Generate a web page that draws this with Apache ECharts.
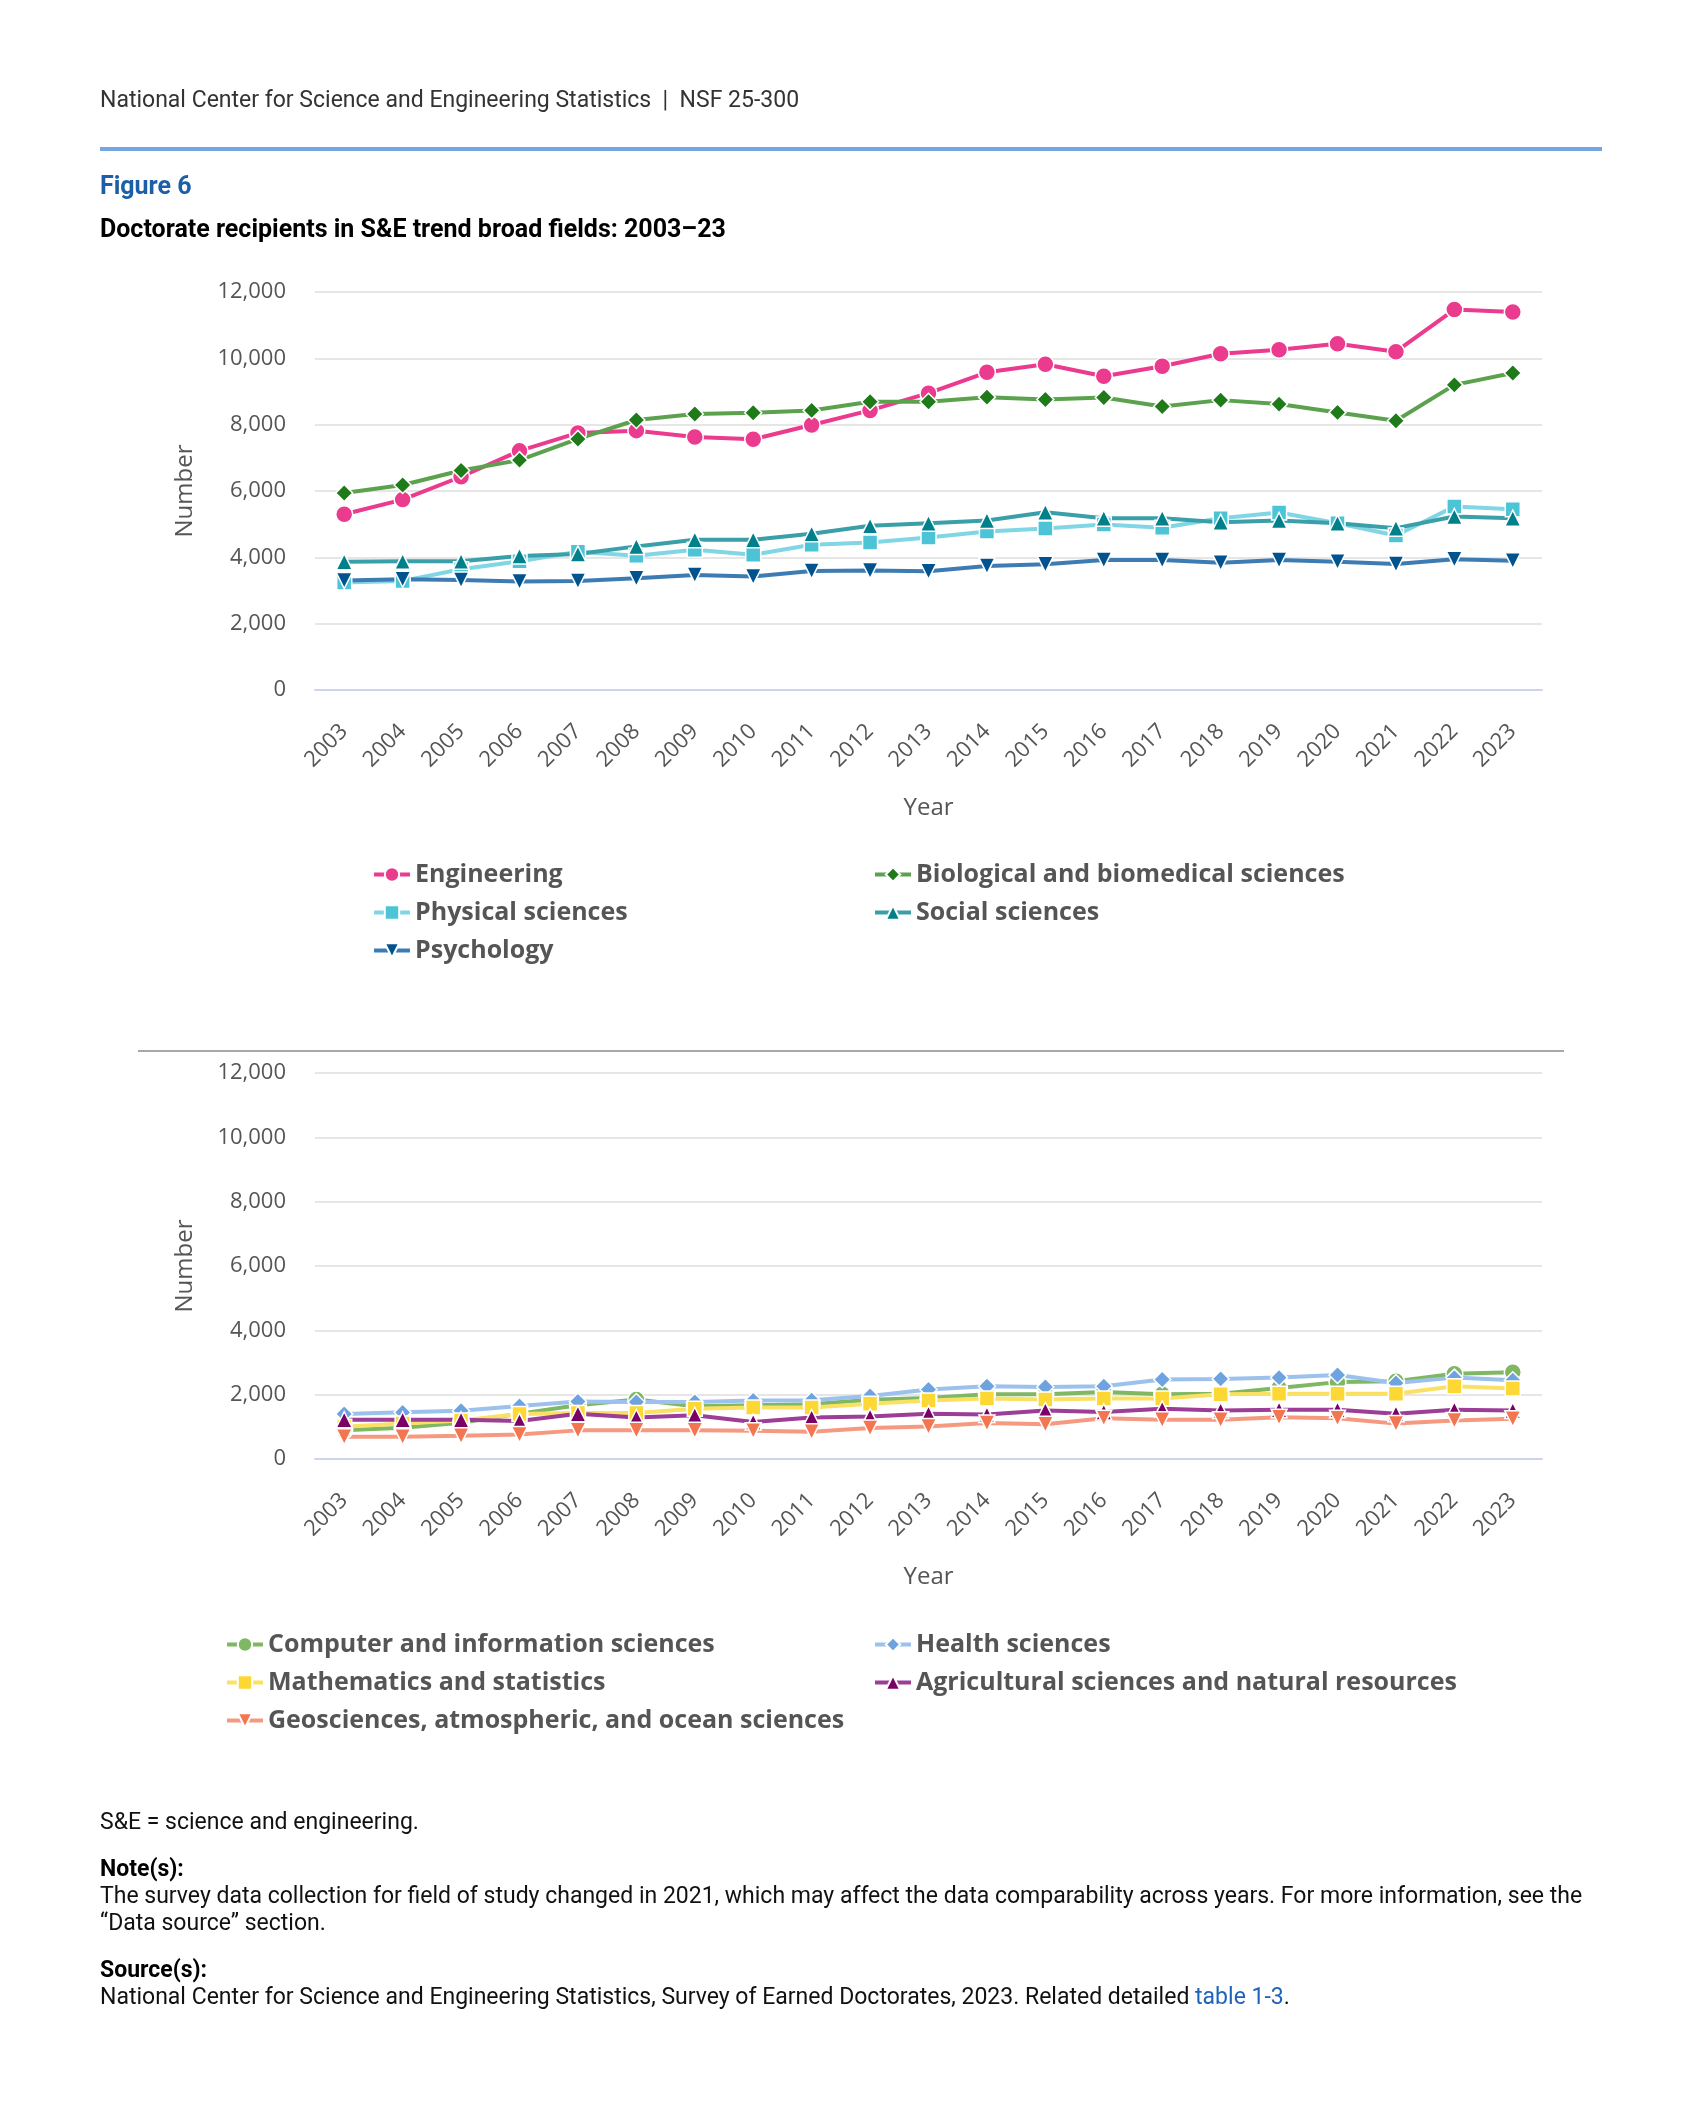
<!DOCTYPE html>
<html>
<head>
<meta charset="utf-8">
<script src="https://cdn.jsdelivr.net/npm/echarts@6/dist/echarts.min.js"></script>
<style>
html,body{margin:0;padding:0;background:#fff;}
#chart{width:1699px;height:2119px;}
</style>
</head>
<body>
<div id="chart"></div>
<script>
const years = ['2003','2004','2005','2006','2007','2008','2009','2010','2011','2012','2013','2014','2015','2016','2017','2018','2019','2020','2021','2022','2023'];
const yTicks = [0, 2000, 4000, 6000, 8000, 10000, 12000];

const engineering = [5300, 5740, 6430, 7210, 7750, 7820, 7630, 7560, 7990, 8430, 8950, 9580, 9820, 9460, 9760, 10140, 10260, 10440, 10200, 11470, 11400];
const biological  = [5940, 6180, 6620, 6930, 7570, 8140, 8320, 8360, 8430, 8690, 8690, 8830, 8760, 8820, 8550, 8740, 8620, 8370, 8120, 9200, 9560];
const physical    = [3240, 3290, 3640, 3880, 4170, 4050, 4230, 4080, 4380, 4450, 4600, 4780, 4870, 4990, 4890, 5180, 5350, 5030, 4660, 5530, 5450];
const social      = [3870, 3880, 3880, 4040, 4100, 4330, 4530, 4530, 4710, 4950, 5030, 5110, 5360, 5180, 5180, 5060, 5110, 5030, 4880, 5230, 5180];
const psychology  = [3300, 3340, 3320, 3270, 3290, 3370, 3470, 3420, 3590, 3600, 3580, 3740, 3790, 3920, 3920, 3840, 3920, 3870, 3800, 3940, 3900];

const computer    = [890, 970, 1130, 1410, 1670, 1850, 1640, 1670, 1700, 1840, 1900, 2010, 2010, 2080, 2010, 2030, 2210, 2390, 2420, 2650, 2700];
const health      = [1400, 1450, 1500, 1650, 1790, 1770, 1770, 1820, 1830, 1960, 2160, 2260, 2240, 2260, 2470, 2490, 2530, 2610, 2360, 2530, 2450];
const mathstat    = [1000, 1100, 1200, 1400, 1430, 1430, 1560, 1600, 1600, 1720, 1820, 1880, 1850, 1880, 1880, 2010, 2030, 2030, 2030, 2260, 2190];
const agri        = [1220, 1220, 1220, 1180, 1410, 1290, 1360, 1150, 1290, 1320, 1410, 1380, 1510, 1460, 1560, 1510, 1530, 1530, 1410, 1530, 1510];
const geo         = [690, 690, 720, 760, 890, 890, 890, 880, 850, 960, 1010, 1120, 1080, 1270, 1220, 1220, 1300, 1270, 1100, 1200, 1250];

const seriesNames1 = ['Engineering', 'Biological and biomedical sciences', 'Physical sciences', 'Social sciences', 'Psychology'];
const seriesNames2 = ['Computer and information sciences', 'Health sciences', 'Mathematics and statistics', 'Agricultural sciences and natural resources', 'Geosciences, atmospheric, and ocean sciences'];

const headerText = 'National Center for Science and Engineering Statistics  |  NSF 25-300';
const figLabel = 'Figure 6';
const titleText = 'Doctorate recipients in S&E trend broad fields: 2003\u201323';
const abbrevText = 'S&E = science and engineering.';
const noteHead = 'Note(s):';
const noteLine1 = 'The survey data collection for field of study changed in 2021, which may affect the data comparability across years. For more information, see the';
const noteLine2 = '\u201cData source\u201d section.';
const sourceHead = 'Source(s):';
const sourceText = 'National Center for Science and Engineering Statistics, Survey of Earned Doctorates, 2023. Related detailed ';
const sourceLink = 'table 1-3';

const chartFont = 'Open Sans';
const pageFont = 'Roboto';

function mkSeries(name, data, lineColor, markColor, symbol, rotate, size, gridIdx) {
  return {
    name: name, type: 'line', data: data,
    xAxisIndex: gridIdx, yAxisIndex: gridIdx,
    symbol: symbol, symbolSize: size, symbolRotate: rotate || 0,
    showAllSymbol: true,
    lineStyle: { color: lineColor, width: 4 },
    itemStyle: { color: markColor, borderColor: '#ffffff', borderWidth: 1.5 },
    emphasis: { disabled: true },
    animation: false
  };
}

const xAxisBase = (gi) => ({
  type: 'category', gridIndex: gi, data: years, boundaryGap: true,
  axisLine: { lineStyle: { color: '#ccd6eb', width: 2 } },
  axisTick: { alignWithLabel: true, length: 22, lineStyle: { color: '#ccd6eb', width: 2 } },
  axisLabel: { rotate: 45, fontSize: 22, color: '#555', fontFamily: chartFont, margin: 38 },
  name: 'Year', nameLocation: 'middle', nameGap: 106,
  nameTextStyle: { fontSize: 24, color: '#555', fontFamily: chartFont }
});
const yAxisBase = (gi) => ({
  type: 'value', gridIndex: gi, min: yTicks[0], max: yTicks[yTicks.length-1], interval: 2000,
  axisLine: { show: false }, axisTick: { show: false },
  splitLine: { lineStyle: { color: '#e6e6e6', width: 2 } },
  axisLabel: { fontSize: 22, color: '#555', fontFamily: chartFont, margin: 29,
    formatter: v => v.toLocaleString('en-US') },
  name: 'Number', nameLocation: 'middle', nameGap: 118, nameRotate: 90,
  nameTextStyle: { fontSize: 24, color: '#555', fontFamily: chartFont }
});

function mkLegend(name, left, top) {
  return {
    data: [name], left: left, top: top, padding: 0, itemWidth: 36, itemHeight: 18,
    selectedMode: false,
    lineStyle: { width: 4 },
    textStyle: { fontSize: 25, fontWeight: 'bold', color: '#555', fontFamily: chartFont }
  };
}

const legendRows1 = [862, 900, 938];
const legendRows2 = [1632, 1670, 1708];

function txt(t, x, y, font, fill) {
  return { type: 'text', style: { x: x, y: y, text: t, font: font, fill: fill, verticalAlign: 'middle', textVerticalAlign: 'middle' } };
}

const option = {
  backgroundColor: '#ffffff',
  animation: false,
  grid: [
    { left: 315, width: 1227, top: 292, height: 398 },
    { left: 315, width: 1227, top: 1073, height: 386 }
  ],
  xAxis: [xAxisBase(0), xAxisBase(1)],
  yAxis: [yAxisBase(0), yAxisBase(1)],
  legend: [
    mkLegend(seriesNames1[0], 372, legendRows1[0]),
    mkLegend(seriesNames1[1], 873, legendRows1[0]),
    mkLegend(seriesNames1[2], 372, legendRows1[1]),
    mkLegend(seriesNames1[3], 873, legendRows1[1]),
    mkLegend(seriesNames1[4], 372, legendRows1[2]),
    mkLegend(seriesNames2[0], 225, legendRows2[0]),
    mkLegend(seriesNames2[1], 873, legendRows2[0]),
    mkLegend(seriesNames2[2], 225, legendRows2[1]),
    mkLegend(seriesNames2[3], 873, legendRows2[1]),
    mkLegend(seriesNames2[4], 225, legendRows2[2])
  ],
  series: [
    mkSeries(seriesNames1[0], engineering, '#ea3b8f', '#ea3b8f', 'circle', 0, 17, 0),
    mkSeries(seriesNames1[1], biological, '#5ca24e', '#1f7a1a', 'diamond', 0, 17, 0),
    mkSeries(seriesNames1[2], physical, '#80d6e4', '#4dc3d6', 'rect', 0, 15, 0),
    mkSeries(seriesNames1[3], social, '#3a9fa9', '#00808a', 'triangle', 0, 16, 0),
    mkSeries(seriesNames1[4], psychology, '#3d7cb3', '#00538f', 'triangle', 180, 16, 0),
    mkSeries(seriesNames2[0], computer, '#7fb763', '#7fb763', 'circle', 0, 17, 1),
    mkSeries(seriesNames2[1], health, '#9cc1ec', '#6fa3e0', 'diamond', 0, 17, 1),
    mkSeries(seriesNames2[2], mathstat, '#fbe163', '#fdd835', 'rect', 0, 15, 1),
    mkSeries(seriesNames2[3], agri, '#9c3d97', '#7a0066', 'triangle', 0, 16, 1),
    mkSeries(seriesNames2[4], geo, '#f59a80', '#f47650', 'triangle', 180, 16, 1)
  ],
  graphic: [
    txt(headerText, 100, 101, '23px ' + pageFont, '#333'),
    { type: 'rect', shape: { x: 100, y: 147, width: 1502, height: 4 }, style: { fill: '#74a7e0' } },
    txt(figLabel, 100, 188, 'bold 25px ' + pageFont, '#1d5ea8'),
    txt(titleText, 100, 231, 'bold 25px ' + pageFont, '#000'),
    { type: 'rect', shape: { x: 138, y: 1050, width: 1426, height: 2 }, style: { fill: '#a8a8a8' } },
    txt(abbrevText, 100, 1823, '23px ' + pageFont, '#111'),
    txt(noteHead, 100, 1870, 'bold 23px ' + pageFont, '#000'),
    txt(noteLine1, 100, 1897, '23px ' + pageFont, '#111'),
    txt(noteLine2, 100, 1924, '23px ' + pageFont, '#111'),
    txt(sourceHead, 100, 1971, 'bold 23px ' + pageFont, '#000'),
    { type: 'text', style: {
        x: 100, y: 1998, verticalAlign: 'middle', textVerticalAlign: 'middle',
        text: '{a|' + sourceText + '}{b|' + sourceLink + '}{a|.}',
        rich: {
          a: { fontFamily: pageFont, fontSize: 23, fill: '#111', color: '#111' },
          b: { fontFamily: pageFont, fontSize: 23, fill: '#1f63b8', color: '#1f63b8' }
        }
      } }
  ]
};

const chart = echarts.init(document.getElementById('chart'), null, { renderer: 'canvas' });
chart.setOption(option);
</script>
</body>
</html>
